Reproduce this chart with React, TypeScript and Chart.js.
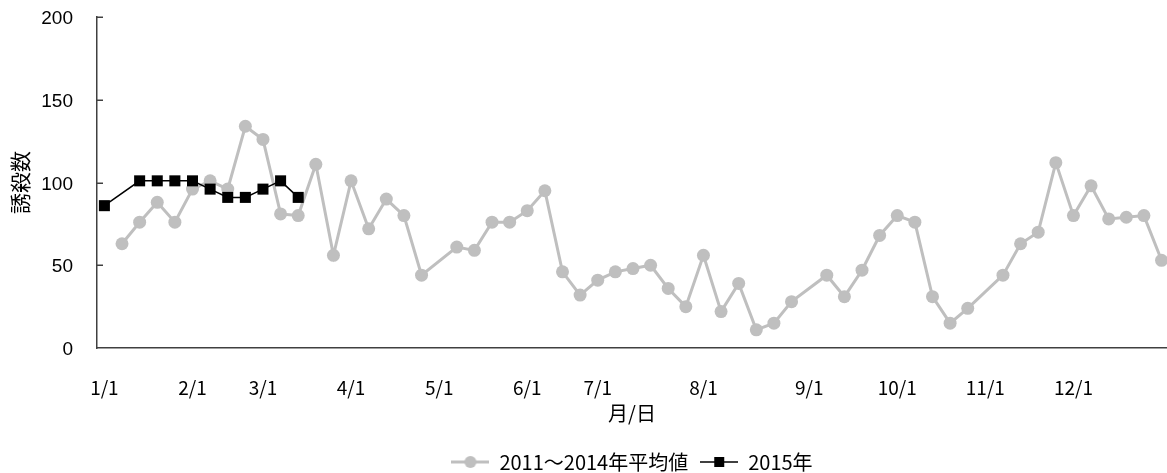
import React, { useEffect, useRef } from 'react';
import { Chart, registerables } from 'chart.js';

Chart.register(...registerables);

// ---- data ----
const categoryCount = 61;
const xTickIndex = [0, 5, 9, 14, 19, 24, 28, 34, 40, 45, 50, 55];
const xTickLabels = ['1/1', '2/1', '3/1', '4/1', '5/1', '6/1', '7/1', '8/1', '9/1', '10/1', '11/1', '12/1'];

const avgValues: (number | null)[] = [
  null, 63, 76, 88, 76, 96, 101, 96, 134, 126,
  81, 80, 111, 56, 101, 72, 90, 80, 44, null,
  61, 59, 76, 76, 83, 95, 46, 32, 41, 46,
  48, 50, 36, 25, 56, 22, 39, 11, 15, 28,
  null, 44, 31, 47, 68, 80, 76, 31, 15, 24,
  null, 44, 63, 70, 112, 80, 98, 78, 79, 80,
  53,
];

const values2015: (number | null)[] = [86, null, 101, 101, 101, 101, 96, 91, 91, 96, 101, 91];

const seriesNames = ['2011～2014年平均値', '2015年'];
const yMin = 0;
const yMax = 200;
const yStep = 50;

// ---- styles ----
const GRAY = '#BFBFBF';
const BLACK = '#000000';
const AXIS = '#404040';
const FONT = "'Noto Sans CJK JP', 'Noto Sans', sans-serif";

function makeIcon(kind: 'circle' | 'square'): HTMLCanvasElement {
  const c = document.createElement('canvas');
  c.width = 38;
  c.height = 16;
  const ctx = c.getContext('2d')!;
  ctx.beginPath();
  ctx.moveTo(0, 8);
  ctx.lineTo(38, 8);
  if (kind === 'circle') {
    ctx.strokeStyle = GRAY;
    ctx.lineWidth = 3;
    ctx.stroke();
    ctx.beginPath();
    ctx.arc(19, 8, 6, 0, Math.PI * 2);
    ctx.fillStyle = GRAY;
    ctx.fill();
  } else {
    ctx.strokeStyle = BLACK;
    ctx.lineWidth = 1.5;
    ctx.stroke();
    ctx.fillStyle = BLACK;
    ctx.fillRect(14, 3, 10, 10);
  }
  return c;
}

const insideTicks = {
  id: 'insideTicks',
  beforeDatasetsDraw(chart: any) {
    const ys = chart.scales.y;
    const left = chart.chartArea.left;
    const ctx = chart.ctx;
    ctx.save();
    ctx.strokeStyle = AXIS;
    ctx.lineWidth = 1.5;
    ys.ticks.forEach((t: any) => {
      if (t.value === yMin) return;
      const py = Math.round(ys.getPixelForValue(t.value)) + 0.25;
      ctx.beginPath();
      ctx.moveTo(left, py);
      ctx.lineTo(left + 6, py);
      ctx.stroke();
    });
    ctx.restore();
  },
};

export default function App() {
  const ref = useRef<HTMLCanvasElement>(null);

  useEffect(() => {
    document.documentElement.style.overflow = 'hidden';
    const icons = [makeIcon('circle'), makeIcon('square')];
    const toPoints = (arr: (number | null)[]) => arr.map((v, i) => ({ x: i, y: v }));

    const chart = new Chart(ref.current!, {
      type: 'line',
      data: {
        datasets: [
          {
            label: seriesNames[0],
            data: toPoints(avgValues) as any,
            borderColor: GRAY,
            backgroundColor: GRAY,
            borderWidth: 3,
            pointStyle: 'circle',
            pointRadius: 6.5,
            pointBorderWidth: 0,
            pointBackgroundColor: GRAY,
            spanGaps: true,
            order: 1,
          },
          {
            label: seriesNames[1],
            data: toPoints(values2015) as any,
            borderColor: BLACK,
            backgroundColor: BLACK,
            borderWidth: 1.5,
            pointStyle: 'rect',
            pointRadius: 7.8,
            pointBorderWidth: 0,
            pointBackgroundColor: BLACK,
            spanGaps: true,
            order: 0,
          },
        ],
      },
      options: {
        animation: false,
        responsive: false,
        devicePixelRatio: 1,
        font: { family: FONT },
        layout: { autoPadding: false, padding: { top: 17, left: 0, right: 0, bottom: 0 } },
        scales: {
          x: {
            type: 'linear',
            bounds: 'data',
            min: -0.42,
            max: categoryCount - 1 + 0.31,
            afterBuildTicks: (s: any) => {
              s.ticks = xTickIndex.map((v) => ({ value: v }));
            },
            afterFit: (s: any) => {
              s.height = 92;
              s.paddingLeft = 0;
              s.paddingRight = 0;
            },
            ticks: {
              autoSkip: false,
              maxRotation: 0,
              minRotation: 0,
              padding: 20,
              color: '#000',
              font: { family: FONT, size: 19 },
              callback: (v: any) => {
                const k = xTickIndex.indexOf(Number(v));
                return k >= 0 ? xTickLabels[k] : '';
              },
            },
            grid: { display: false },
            border: { display: true, color: AXIS, width: 1.5 },
            title: {
              display: true,
              text: '月/日',
              color: '#000',
              font: { family: FONT, size: 20 },
              padding: { top: 0, bottom: 15 },
            },
          },
          y: {
            type: 'linear',
            min: yMin,
            max: yMax,
            afterFit: (s: any) => {
              s.width = 97;
              s.paddingTop = 0;
              s.paddingBottom = 0;
            },
            ticks: {
              stepSize: yStep,
              padding: 24,
              labelOffset: 2,
              color: '#000',
              font: { family: "'Liberation Sans', Arial, sans-serif", size: 19 },
            },
            grid: { display: false, drawTicks: false },
            border: { display: true, color: AXIS, width: 1.5 },
            title: {
              display: true,
              text: '誘殺数',
              color: '#000',
              font: { family: FONT, size: 21 },
              padding: { top: 7, bottom: 0 },
            },
          },
        },
        plugins: {
          tooltip: { enabled: false },
          legend: {
            display: true,
            position: 'bottom',
            fullSize: false,
            labels: {
              usePointStyle: true,
              pointStyleWidth: 38,
              padding: 12,
              color: '#000',
              font: { family: FONT, size: 20 },
              sort: (a: any, b: any) => a.datasetIndex - b.datasetIndex,
              generateLabels: (ch: any) => {
                const items = (Chart.defaults.plugins.legend.labels as any).generateLabels(ch);
                items.forEach((it: any) => {
                  it.pointStyle = icons[it.datasetIndex];
                });
                return items;
              },
            },
          },
        },
      },
      plugins: [insideTicks],
    } as any);

    return () => chart.destroy();
  }, []);

  return (
    <div style={{ position: 'fixed', left: 0, top: 0, width: 1167, height: 482 }}>
      <canvas ref={ref} width={1167} height={482} style={{ display: 'block' }} />
    </div>
  );
}
